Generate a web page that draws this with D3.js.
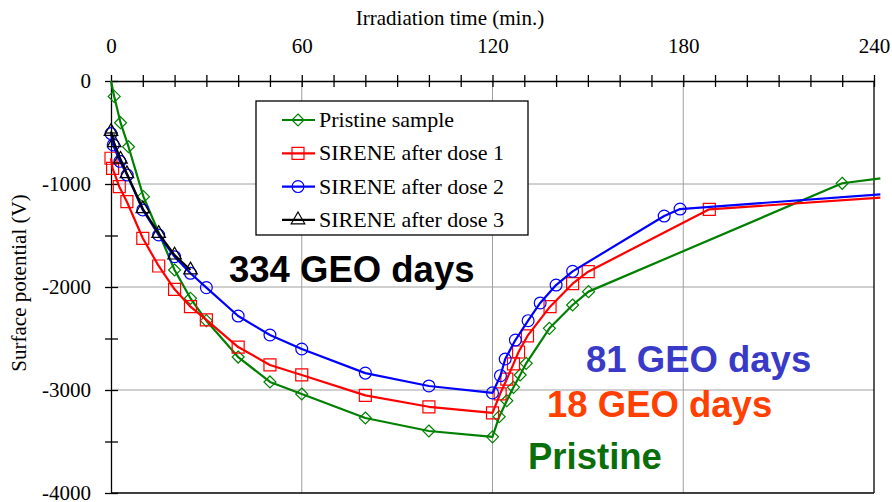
<!DOCTYPE html>
<html>
<head>
<meta charset="utf-8">
<script src="https://cdn.jsdelivr.net/npm/d3@7"></script>
<style>
  body { margin: 0; background: #fff; }
  text { font-family: "Liberation Serif", "Times New Roman", serif; }
  .note { font-family: "Liberation Sans", Arial, sans-serif; font-weight: bold; }
</style>
</head>
<body>
<script>
// irradiation time (min.) and surface potential (V) for each sample
var pristineT = [0, 1, 3, 5.5, 10.2, 20, 25, 30, 40, 50, 60, 80, 100, 120,
  122.1, 124.5, 126.6, 128.7, 130.6, 137.9, 145.2, 150.2, 230, 242];
var pristineV = [0, -150, -405, -638, -1123, -1835, -2110, -2327, -2680, -2922, -3039, -3272, -3398, -3455,
  -3259, -3104, -2974, -2854, -2741, -2401, -2175, -2045, -993, -945];

var dose1T = [0, 0.5, 2.6, 5, 10, 15, 20, 25, 30, 40, 50, 60, 80, 100, 120,
  122.4, 124.5, 126.6, 128.2, 131, 138.1, 145.2, 150.1, 188.2, 242];
var dose1V = [-750, -848, -1026, -1172, -1527, -1796, -2023, -2191, -2320, -2583, -2757, -2854, -3052, -3163, -3222,
  -3037, -2895, -2746, -2631, -2475, -2191, -1968, -1851, -1246, -1133];

var dose2T = [0, 0.7, 2.8, 5.1, 10, 15, 20, 25, 30, 40, 50, 60, 80, 100, 120,
  122.5, 124, 127.2, 131.2, 135, 140, 145.2, 174, 179, 242];
var dose2V = [-510, -621, -780, -913, -1252, -1495, -1706, -1867, -2006, -2282, -2466, -2602, -2836, -2961, -3028,
  -2861, -2699, -2515, -2327, -2155, -1981, -1848, -1311, -1243, -1100];

var dose3T = [0, 1, 3, 5, 10, 15, 20, 25];
var dose3V = [-490, -600, -760, -900, -1240, -1480, -1690, -1835];

var xTicks = [0, 60, 120, 180, 240];
var yTicks = [0, -1000, -2000, -3000, -4000];

var legendNames = ["Pristine sample", "SIRENE after dose 1", "SIRENE after dose 2", "SIRENE after dose 3"];
var notes = ["334 GEO days", "81 GEO days", "18 GEO days", "Pristine"];

function zip(ts, vs) {
  return ts.map(function (t, i) { return { t: t, v: vs[i] }; });
}

var series = [
  { name: legendNames[0], color: "#008000", shape: "diamond", data: zip(pristineT, pristineV) },
  { name: legendNames[1], color: "#ff0000", shape: "square", data: zip(dose1T, dose1V) },
  { name: legendNames[2], color: "#0000ff", shape: "circle", data: zip(dose2T, dose2V) },
  { name: legendNames[3], color: "#000000", shape: "triangle", data: zip(dose3T, dose3V) }
];

var W = 892, H = 502;
var svg = d3.select("body").append("svg").attr("width", W).attr("height", H);

var x = d3.scaleLinear().domain([0, 240]).range([111, 874]);
var y = d3.scaleLinear().domain([-4000, 0]).range([493, 81]);

// grid
svg.append("g").selectAll("line")
  .data(xTicks.slice(1, -1))
  .enter().append("line")
  .attr("x1", function (d) { return x(d); }).attr("x2", function (d) { return x(d); })
  .attr("y1", y(0)).attr("y2", y(-4000))
  .attr("stroke", "#a0a0a0").attr("stroke-width", 1);
svg.append("g").selectAll("line")
  .data(yTicks.slice(1, -1))
  .enter().append("line")
  .attr("x1", x(0)).attr("x2", x(240))
  .attr("y1", function (d) { return y(d); }).attr("y2", function (d) { return y(d); })
  .attr("stroke", "#a0a0a0").attr("stroke-width", 1);

// frame on right and bottom
svg.append("line").attr("x1", x(240)).attr("x2", x(240)).attr("y1", y(0)).attr("y2", y(-4000))
  .attr("stroke", "#000").attr("stroke-width", 1.3);
svg.append("line").attr("x1", x(0)).attr("x2", x(240)).attr("y1", y(-4000)).attr("y2", y(-4000))
  .attr("stroke", "#000").attr("stroke-width", 1.3);

// top axis
var xAxis = d3.axisTop(x).tickValues(d3.range(0, 241, 10))
  .tickFormat(function (d) { return xTicks.indexOf(d) >= 0 ? d : ""; })
  .tickSizeInner(6).tickSizeOuter(0).tickPadding(22);
var gx = svg.append("g").attr("transform", "translate(0," + y(0) + ")").call(xAxis);
gx.selectAll(".tick line").attr("y2", 6).attr("y1", -6).attr("stroke-width", 1.3);
gx.select(".domain").attr("stroke-width", 1.3);
gx.selectAll("text").attr("font-size", 21).attr("font-family", "Liberation Serif").attr("fill", "#000");

// left axis
var yAxis = d3.axisLeft(y).tickValues(d3.range(-4000, 1, 500))
  .tickFormat(function (d) { return yTicks.indexOf(d) >= 0 ? d : ""; })
  .tickSizeInner(6).tickSizeOuter(0).tickPadding(14);
var gy = svg.append("g").attr("transform", "translate(" + x(0) + ",0)").call(yAxis);
gy.selectAll(".tick line").attr("x2", 7).attr("x1", -6).attr("stroke-width", 1.3);
gy.select(".domain").attr("stroke-width", 1.3);
gy.selectAll("text").attr("font-size", 21).attr("font-family", "Liberation Serif").attr("fill", "#000");

// axis titles
svg.append("text").attr("x", 450).attr("y", 25).attr("text-anchor", "middle")
  .attr("font-size", 21).text("Irradiation time (min.)");
svg.append("text").attr("transform", "translate(26,283) rotate(-90)").attr("text-anchor", "middle")
  .attr("font-size", 21).text("Surface potential (V)");

// marker shapes
function marker(sel, shape, color) {
  var p;
  if (shape === "diamond") p = "M0,-6L6,0L0,6L-6,0Z";
  else if (shape === "square") p = "M-6,-6H6V6H-6Z";
  else if (shape === "circle") p = d3.symbol(d3.symbolCircle, 110)();
  else p = d3.symbol(d3.symbolTriangle, 80)();
  sel.append("path").attr("d", p).attr("fill", "none").attr("stroke", color).attr("stroke-width", 1.2);
}

var line = d3.line()
  .x(function (d) { return x(d.t); })
  .y(function (d) { return y(d.v); });

series.forEach(function (s) {
  svg.append("path").datum(s.data).attr("d", line)
    .attr("fill", "none").attr("stroke", s.color).attr("stroke-width", 2.2)
    .attr("stroke-linejoin", "round");
  svg.append("g").selectAll("g")
    .data(s.data.filter(function (d) { return d.v < 0 && d.t <= 240; }))
    .enter().append("g")
    .attr("transform", function (d) { return "translate(" + x(d.t) + "," + y(d.v) + ")"; })
    .each(function () { marker(d3.select(this), s.shape, s.color); });
});

// legend
var lg = svg.append("g").attr("transform", "translate(256,101)");
lg.append("rect").attr("width", 272).attr("height", 134)
  .attr("fill", "#fff").attr("stroke", "#000").attr("stroke-width", 1.3);
series.forEach(function (s, i) {
  var row = lg.append("g").attr("transform", "translate(0," + (19 + i * 33.3) + ")");
  row.append("line").attr("x1", 26).attr("x2", 59).attr("stroke", s.color).attr("stroke-width", 2.2);
  marker(row.append("g").attr("transform", "translate(42,0)"), s.shape, s.color);
  row.append("text").attr("x", 63).attr("y", 7).attr("font-size", 22).text(s.name);
});

// annotations
var noteSpec = [
  { x: 229, y: 282, c: "#000000" },
  { x: 586, y: 372, c: "#3a3ac8" },
  { x: 547, y: 417, c: "#ff4000" },
  { x: 528, y: 469, c: "#0a6e0a" }
];
notes.forEach(function (n, i) {
  svg.append("text").attr("class", "note")
    .attr("x", noteSpec[i].x).attr("y", noteSpec[i].y)
    .attr("font-size", 36.5).attr("fill", noteSpec[i].c).text(n);
});
</script>
</body>
</html>
